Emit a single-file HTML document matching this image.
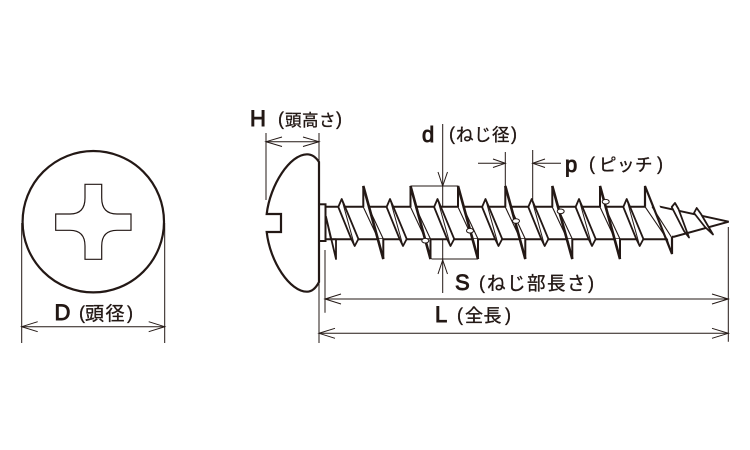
<!DOCTYPE html>
<html><head><meta charset="utf-8">
<style>
html,body{margin:0;padding:0;background:#fff;width:750px;height:450px;overflow:hidden}
svg{display:block}
.b{font-family:"Liberation Sans",sans-serif;font-size:22px;fill:#231815;stroke:#231815;stroke-width:.9}
.j{font-family:"Liberation Sans","Noto Sans CJK JP",sans-serif;font-size:18px;fill:#231815;stroke:#231815;stroke-width:.35}
.t{fill:none;stroke:#231815;stroke-width:1}
.m{fill:none;stroke:#231815;stroke-width:1.2}
.k{fill:none;stroke:#231815;stroke-width:2}
</style></head><body>
<svg width="750" height="450" viewBox="0 0 750 450" xmlns="http://www.w3.org/2000/svg">
<defs>
<g id="big">
<path d="M0,186V207L15,239H20V259Z" fill="#fff" stroke="none"/>
<path d="M0,207V186L20,259V239" fill="none" stroke="#231815" stroke-width="2"/>
<path d="M0,186L20,259" fill="none" stroke="#231815" stroke-width="2.6"/>
<path d="M0,207L15,239L20,259M5,207L20,239" fill="none" stroke="#231815" stroke-width="1.1"/>
</g>
<g id="small">
<path d="M-3.4,207L0,199L3.4,207L16.7,239L13,246L9.6,239Z" fill="#fff" stroke="#231815" stroke-width="1.8" stroke-linejoin="round"/>
<path d="M0,199L13,246" fill="none" stroke="#231815" stroke-width="1"/>
</g>
</defs>

<!-- top view -->
<circle cx="93.3" cy="221.7" r="70.7" fill="none" stroke="#231815" stroke-width="2.2"/>
<path d="M85,184.3H101.7V198Q101.7,214 117,214H131V230.3H117Q101.7,230.3 101.7,246V259.3H85V246Q85,230.3 70,230.3H55.7V214H70Q85,214 85,198Z" class="m"/>
<path d="M21.7,223V343M164.7,223V343" class="t"/>
<path d="M21.7,326.7H164.7" class="t"/>
<path d="M37.7,321.7L21.7,326.7L37.7,331.7M148.7,321.7L164.7,326.7L148.7,331.7" class="t"/>
<text x="54.500" y="320" class="b">D</text>
<text x="79" y="319" class="j">(</text>
<text x="85" y="320" class="j" style="font-size:19px;letter-spacing:1.5px">頭径</text>
<text x="127" y="319" class="j">)</text>

<!-- shaft -->
<path d="M325,206.7H660L728.7,221.7L674,236.7H672" class="k" stroke-linejoin="miter"/>
<path d="M325,239.3H672" class="k"/>
<rect x="319" y="204.3" width="6.5" height="36.7" fill="#fff" stroke="#231815" stroke-width="2"/>

<!-- first partial thread -->
<path d="M326,216.7L336,259V239.3H331Z" fill="#fff" stroke="#231815" stroke-width="1.8" stroke-linejoin="round"/>

<!-- threads -->
<use href="#small" x="341.7"/>
<use href="#big" x="363.3"/>
<use href="#small" x="390"/>
<use href="#big" x="410.5"/>
<use href="#small" x="437.5"/>
<use href="#big" x="458"/>
<use href="#small" x="485.5"/>
<use href="#big" x="505.3"/>
<use href="#small" x="531.7"/>
<use href="#big" x="552.3"/>
<use href="#small" x="579"/>
<use href="#big" x="600"/>
<use href="#small" x="626.7"/>

<!-- last big + tip threads -->
<path d="M645,186V206.7L668,239.3L672,254V237L660,206.7Z" fill="#fff" stroke="none"/>
<path d="M645,206.7V186L672,254V237" fill="none" stroke="#231815" stroke-width="2.2"/>
<path d="M645,206.7L667,239L672,254M652,206.7L672,238" fill="none" stroke="#231815" stroke-width="1.1"/>
<path d="M671.700,207L675,203L678.500,209L689,237.500L684,231Z" fill="#fff" stroke="#231815" stroke-width="1.8" stroke-linejoin="round"/>
<path d="M694,213L696.700,208L701,214L713,234.500L705,227Z" fill="#fff" stroke="#231815" stroke-width="1.8" stroke-linejoin="round"/>

<!-- small ovals -->
<g fill="#fff" stroke="#231815" stroke-width="1">
<ellipse cx="425.300" cy="240.700" rx="3.500" ry="2.300"/>
<ellipse cx="470" cy="230.700" rx="3.500" ry="2.300"/>
<ellipse cx="516" cy="221" rx="3.500" ry="2.300"/>
<ellipse cx="560.700" cy="211.300" rx="3.500" ry="2.300"/>
<ellipse cx="605.700" cy="201.700" rx="3.500" ry="2.300"/>
</g>

<!-- head -->
<path d="M319,162Q314,154.300 307,154.300C290,154.300 270,185 266.700,214H281V232H266.700C270,262 290,291.700 307,291.700Q314,291.700 319,282Z" fill="#fff" stroke="#231815" stroke-width="2.200" stroke-linejoin="miter"/>

<!-- H dim -->
<path d="M266,133V200M319,133V165M266,141.700H319" class="t"/>
<path d="M282,137L266,141.700L282,146.500M303,137L319,141.700L303,146.500" class="t"/>
<text x="250" y="126" class="b">H</text>
<text x="278" y="125" class="j">(</text>
<text x="285" y="126" class="j" style="font-size:16.500px;letter-spacing:.5px">頭高さ</text>
<text x="336" y="125" class="j">)</text>

<!-- d dim -->
<path d="M410.500,186H458M431.500,259H478M442.700,124V206M442.700,240V293" class="t"/>
<path d="M438,172L442.700,186L447.500,172M438,274L442.700,260L447.500,274" class="t"/>
<text x="422" y="142" class="b">d</text>
<text x="449" y="140" class="j">(</text>
<text x="456" y="141" class="j" style="font-size:17.500px;letter-spacing:.5px">ねじ径</text>
<text x="511" y="140" class="j">)</text>

<!-- p dim -->
<path d="M505.300,152V186M532.700,150V200M478,163.300H505.300M532.700,163.300H561" class="t"/>
<path d="M493,159L505.300,163.300L493,167.500M545,159L532.700,163.300L545,167.500" class="t"/>
<text x="565" y="172" class="b">p</text>
<text x="589" y="170" class="j">(</text>
<text x="599" y="171" class="j" style="font-size:17.500px;letter-spacing:.5px">ピッチ</text>
<text x="657" y="170" class="j">)</text>

<!-- S / L dims -->
<path d="M325,250V312.700M319,282V343M728.300,227V341.700" class="t"/>
<path d="M325,299H728.300M319,333.300H728.300" class="t"/>
<path d="M341,294L325,299L341,304M712,294L728.300,299L712,304M335,328.300L319,333.300L335,338.300M712,328.300L728.300,333.300L712,338.300" class="t"/>
<text x="455" y="290" class="b">S</text>
<text x="479" y="289" class="j">(</text>
<text x="487" y="290" class="j" style="font-size:18.500px;letter-spacing:1.500px">ねじ部長さ</text>
<text x="588" y="289" class="j">)</text>
<text x="435" y="322" class="b">L</text>
<text x="457" y="321" class="j">(</text>
<text x="465" y="322" class="j" style="font-size:18px;letter-spacing:.5px">全長</text>
<text x="505" y="321" class="j">)</text>
</svg>
</body></html>
